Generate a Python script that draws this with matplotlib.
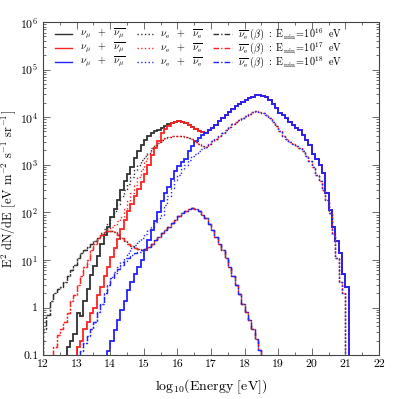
import numpy as np
import matplotlib
matplotlib.use('Agg')
import matplotlib.pyplot as plt

plt.rcParams['font.family'] = 'serif'
plt.rcParams['font.serif'] = ['cmr10', 'DejaVu Serif']
plt.rcParams['mathtext.fontset'] = 'cm'
plt.rcParams['axes.unicode_minus'] = False
plt.rcParams['axes.formatter.use_mathtext'] = True

BIN = 0.1  # bin width in log10(E)

# E^2 dN/dE per bin, each list starts at the given left bin edge
# nu_mu + nu_mu-bar
numu_16_start = 12.7
numu_16 = [0.15, 0.2, 0.28, 0.76, 0.65, 1.4, 2.5, 4.8, 7.5, 12, 22, 33, 49,
           80, 115, 180, 300, 450, 650, 900, 1400, 1900, 2600,
           3300, 4000, 4600, 5000, 5300, 5900, 6600, 7200, 7600]
numu_17_start = 13.0
numu_17 = [0.15, 0.2, 0.35, 0.5, 0.76, 1.0, 1.8, 2.7, 4.5, 7,
           11.5, 18, 28, 45, 70, 105, 150, 220, 310, 430,
           650, 1000, 1600, 2300, 3200, 4600, 5500, 6500, 7400, 7900,
           8100, 8000, 7600, 7000, 6300, 5700, 5100, 4800, 4700]
numu_18_start = 13.9
numu_18 = [0.12, 0.2, 0.34, 0.55, 0.9, 1.4, 2.3, 3.4, 5, 7, 10,
           16, 26, 42, 65, 100, 170, 250, 340, 500, 750,
           950, 1150, 1350, 1900, 2500, 3200, 3700, 4200, 4700, 5300,
           6000, 7000, 8200, 9500, 11000, 13000, 15000, 17000, 19000, 21000,
           23000, 25000, 27000, 28500, 29000, 28000, 26000, 23000, 19000, 15500,
           12500, 11000, 9500, 8000, 7000, 6000, 5300, 4300, 3300, 2600,
           1700, 1300, 1000, 660, 250, 110, 49, 25, 14, 5, 2.7]

# nu_e + nu_e-bar
nue_16_start = 12.0
nue_16 = [0.35, 0.7, 1.4, 2.0, 2.5, 2.7, 3.5, 4.5, 6, 8,
          11, 14, 16, 19, 22, 25, 29, 36, 45, 60,
          80, 105, 150, 220, 300, 400, 550, 780, 1000, 1250,
          1500, 1800, 2200, 2600, 2900, 3300, 3600, 3900]
nue_17_start = 12.3
nue_17 = [0.15, 0.26, 0.35, 0.5, 0.76, 1.4, 1.8, 3, 4.5, 7,
          10, 16, 22, 29, 35, 40, 45, 49, 55, 65,
          80, 120, 170, 250, 380, 550, 800, 1200, 1700, 2200,
          2600, 3000, 3300, 3600, 3900, 4000, 4100, 4100, 4000, 3900,
          3700, 3400, 3000, 2700, 2450, 2350]
nue_18_start = 13.1
nue_18 = [0.12, 0.18, 0.25, 0.35, 0.5, 0.8, 1.2, 2, 3,
          4.4, 5.5, 7, 9, 11, 14, 18, 21, 25, 29,
          35, 42, 50, 62, 75, 90, 140, 220, 330, 480,
          620, 800, 1000, 1250, 1500, 1700, 1900, 2100, 2350, 2700,
          3100, 3500, 4100, 4700, 5400, 6200, 7100, 8000, 8900, 9800,
          10800, 11800, 12700, 13200, 13000, 12200, 11000, 9500, 8000, 6500,
          5000, 4000, 3500, 3000, 2700, 2500, 2300, 1900, 1500, 1200,
          900, 600, 450, 300, 180, 95, 35, 11, 3.5, 2]

# nu_e-bar from neutron beta decay
beta_16_start = 12.0
beta_16 = [0.35, 0.7, 1.4, 2.0, 2.5, 2.7, 3.5, 4.5, 6, 8,
           11, 14, 16, 19, 22, 25, 29]
beta_17_start = 12.3
beta_17 = [0.15, 0.26, 0.35, 0.5, 0.76, 1.4, 1.8, 3, 4.5, 7,
           10, 16, 22, 29, 34, 38, 40, 40, 38, 33,
           29, 25, 22, 20, 18, 17, 16]
beta_18_start = 13.1
beta_18 = [0.12, 0.18, 0.25, 0.35, 0.5, 0.8, 1.2, 2, 3,
           4.2, 5.2, 6.5, 8, 9.5, 11, 12.5, 14, 15, 16,
           17, 19, 22, 26, 30, 36, 43, 50, 60, 70,
           82, 95, 108, 118, 122, 118, 105, 90, 75, 58,
           42, 30, 22, 16, 11, 7, 4.5, 3, 1.9, 1.2,
           0.8, 0.55, 0.35, 0.22, 0.13]

emin_labels = ['16', '17', '18']


def join(lo, lo_start, hi, hi_start):
    # lower curve continues along the one it merges into
    skip = int(round((lo_start + BIN * len(lo) - hi_start) / BIN))
    return lo + hi[skip:]


def edges(start, vals):
    return start + BIN * np.arange(len(vals) + 1)


numu_17_full = join(numu_17, numu_17_start, numu_18, numu_18_start)
numu_16_full = join(numu_16, numu_16_start, numu_17_full, numu_17_start)
nue_17_full = join(nue_17, nue_17_start, nue_18, nue_18_start)
nue_16_full = join(nue_16, nue_16_start, nue_17_full, nue_17_start)
beta_17_full = join(beta_17, beta_17_start, beta_18, beta_18_start)
beta_16_full = join(beta_16, beta_16_start, beta_17_full, beta_17_start)

colors = ['#303030', '#ff2222', '#2222ff']
dashdot = (0, (4, 1.5, 1, 1.5))

curves = [
    (numu_16_start, numu_16_full, 0, '-'),
    (numu_17_start, numu_17_full, 1, '-'),
    (numu_18_start, numu_18, 2, '-'),
    (nue_16_start, nue_16_full, 0, ':'),
    (nue_17_start, nue_17_full, 1, ':'),
    (nue_18_start, nue_18, 2, ':'),
    (beta_16_start, beta_16_full, 0, dashdot),
    (beta_17_start, beta_17_full, 1, dashdot),
    (beta_18_start, beta_18, 2, dashdot),
]

fig = plt.figure(figsize=(3.99, 3.99), dpi=100)
ax = fig.add_axes([0.108, 0.110, 0.842, 0.835])

for start, vals, ci, ls in curves:
    lw = 1.3 if ls == '-' else 1.0
    ax.stairs(vals, edges(start, vals), baseline=1e-3, color=colors[ci],
              linestyle=ls, linewidth=lw)

ax.set_yscale('log')
ax.set_xlim(12, 22)
ax.set_ylim(0.1, 1e6)

ax.set_xticks(range(12, 23))
ax.set_xticklabels([str(v) for v in range(12, 23)])
ax.set_xticks(np.arange(12.5, 22, 1.0), minor=True)
ax.set_yticks([0.1, 1, 10, 1e2, 1e3, 1e4, 1e5, 1e6])
ax.set_yticklabels(['0.1', '1', r'$10^1$', r'$10^2$', r'$10^3$',
                    r'$10^4$', r'$10^5$', r'$10^6$'])
ax.tick_params(which='both', direction='in', top=True, right=True,
               labelsize=8.5, width=0.6, color='#555555')
ax.tick_params(which='major', length=5)
ax.tick_params(which='minor', length=2.5)
for s in ax.spines.values():
    s.set_linewidth(0.8)
    s.set_color('#444444')

ax.set_xlabel(r'log$_{10}$(Energy [eV])', fontsize=10, labelpad=6)
ax.set_ylabel(r'E$^2$ dN/dE [eV m$^{-2}$ s$^{-1}$ sr$^{-1}$]', fontsize=9)
ax.yaxis.set_label_coords(-0.075, 0.5)

# hand-made legend: three rows, one per E_min
row_y = [0.963, 0.921, 0.879]
for i, ey in enumerate(emin_labels):
    y = row_y[i]
    ax.plot([0.036, 0.086], [y, y], transform=ax.transAxes, color=colors[i],
            lw=1.0, ls='-')
    ax.text(0.11, y, r'$\nu_\mu\ \ +\ \ \overline{\nu_\mu}$',
            transform=ax.transAxes, fontsize=7.3, va='center')
    ax.plot([0.28, 0.327], [y, y], transform=ax.transAxes, color=colors[i],
            lw=1.0, ls=':')
    ax.text(0.348, y, r'$\nu_\mathrm{e}\ \ +\ \ \overline{\nu_\mathrm{e}}$',
            transform=ax.transAxes, fontsize=7.3, va='center')
    ax.plot([0.506, 0.5625], [y, y], transform=ax.transAxes, color=colors[i],
            lw=1.0, ls=dashdot)
    ax.text(0.58, y,
            r'$\overline{\nu_\mathrm{e}}\ (\beta)\ :\ \mathrm{E_{min}\!=\!10^{%s}\ \ eV}$' % ey,
            transform=ax.transAxes, fontsize=7.3, va='center')

fig.savefig('out.png', dpi=100)
plt.close('all')
